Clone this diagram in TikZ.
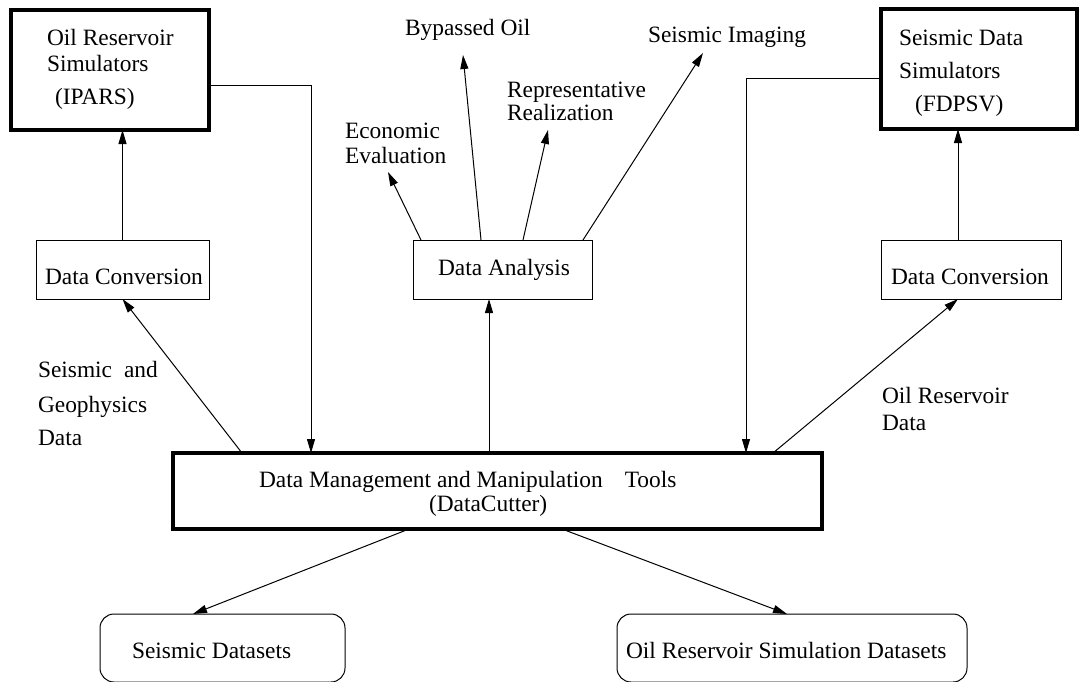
\documentclass[tikz,border=0pt]{standalone}
\usepackage{fontspec}
\setmainfont{Liberation Serif}
\usetikzlibrary{arrows.meta,calc}
\begin{document}
\begin{tikzpicture}[x=1pt,y=-1pt,
  every node/.style={font=\fontsize{23.4}{28}\selectfont, inner sep=0pt, outer sep=0pt},
  thinbox/.style={draw, line width=1pt},
  thickbox/.style={draw, line width=3.5pt},
  roundbox/.style={draw, line width=1pt, rounded corners=14pt},
  txt/.style={anchor=base west},
  conn/.style={line width=1pt},
  arr/.style={conn, -{Triangle[length=14pt,width=8pt]}},
]
\useasboundingbox (0,0) rectangle (1079,681);

% ---- boxes ----
\node[thickbox, minimum width=198pt, minimum height=120pt] (ors)  at (110,70) {};
\node[thickbox, minimum width=196pt, minimum height=120pt] (sds)  at (979,69) {};
\node[thinbox,  minimum width=173pt, minimum height=59pt]  (ldc)  at (122.5,269.5) {};
\node[thinbox,  minimum width=180pt, minimum height=59pt]  (rdc)  at (971,269.5) {};
\node[thinbox,  minimum width=179pt, minimum height=59pt]  (da)   at (502.5,269.5) {};
\node[thickbox, minimum width=649pt, minimum height=76pt]  (dm)   at (497.5,491) {};
\node[roundbox, minimum width=245pt, minimum height=68pt]  (sdsets) at (222.5,648) {};
\node[roundbox, minimum width=350pt, minimum height=68pt]  (ordsets) at (792,648) {};

% ---- texts in boxes ----
\node[txt] (orsA) at (47,45)  {Oil Reservoir};
\node[txt] (orsB) at (47,71)  {Simulators};
\node[txt] (orsC) at (55,104) {(IPARS)};
\node[txt] (sdsA) at (899,45)  {Seismic Data};
\node[txt] (sdsB) at (899,78)  {Simulators};
\node[txt] (sdsC) at (915,111) {(FDPSV)};
\node[txt] (ldcT) at (45,284)  {Data Conversion};
\node[txt] (rdcT) at (891,284) {Data Conversion};
\node[txt] (daT)  at (438,275) {Data Analysis};
\node[txt] (dmA)  at (259,487) {Data Management and Manipulation\hspace{22pt}Tools};
\node[txt] (dmB)  at (429,511) {(DataCutter)};
\node[txt] (sdT)  at (132,658) {Seismic Datasets};
\node[txt] (orT)  at (626,658) {Oil Reservoir Simulation Datasets};

% ---- free labels ----
\node[txt] (econA) at (345,138) {Economic};
\node[txt] (econB) at (345,163) {Evaluation};
\node[txt] (byp)   at (405,35)  {Bypassed Oil};
\node[txt] (repA)  at (507,97)  {Representative};
\node[txt] (repB)  at (507,120) {Realization};
\node[txt] (simg)  at (648,42)  {Seismic Imaging};
\node[txt] (sgA)   at (38,377)  {Seismic\hspace{12pt}and};
\node[txt] (sgB)   at (38,412)  {Geophysics};
\node[txt] (sgC)   at (38,445)  {Data};
\node[txt] (orA)   at (882,403) {Oil Reservoir};
\node[txt] (orB)   at (882,430) {Data};

% ---- arrow tips of the analysis results ----
\coordinate (tipEcon) at (388,172);
\coordinate (tipByp)  at (463,55);
\coordinate (tipRep)  at (548,130);
\coordinate (tipImg)  at (703,53);

% ---- connectors ----
\draw[arr] (ldc.north) -- (ldc.north |- ors.south);
\draw[arr] ($(rdc.north)+(-13,0)$) -- ($(rdc.north |- sds.south)+(-13,0)$);

\draw[arr] ($(ors.east)+(0,15)$) -| ($(dm.north west)+(138,0)$);
\draw[arr] ($(sds.west)+(0,9)$) -| ($(dm.north west)+(573,0)$);

\draw[arr] ($(dm.north west)+(69,0)$) -- (ldc.south);
\draw[arr] ($(dm.north west)+(600,0)$) -- ($(rdc.south)+(-13,0)$);
\draw[arr] ($(dm.north west)+(316,0)$) -- ($(da.south west)+(76,0)$);

\draw[arr] ($(da.north west)+(8,0)$)   -- (tipEcon);
\draw[arr] ($(da.north west)+(68,0)$)  -- (tipByp);
\draw[arr] ($(da.north west)+(110,0)$) -- (tipRep);
\draw[arr] ($(da.north west)+(170,0)$) -- (tipImg);

\draw[arr] ($(dm.south west)+(236,0)$) -- ($(sdsets.north west)+(93,0)$);
\draw[arr] ($(dm.south west)+(389,0)$) -- ($(ordsets.north west)+(170,0)$);
\end{tikzpicture}
\end{document}
